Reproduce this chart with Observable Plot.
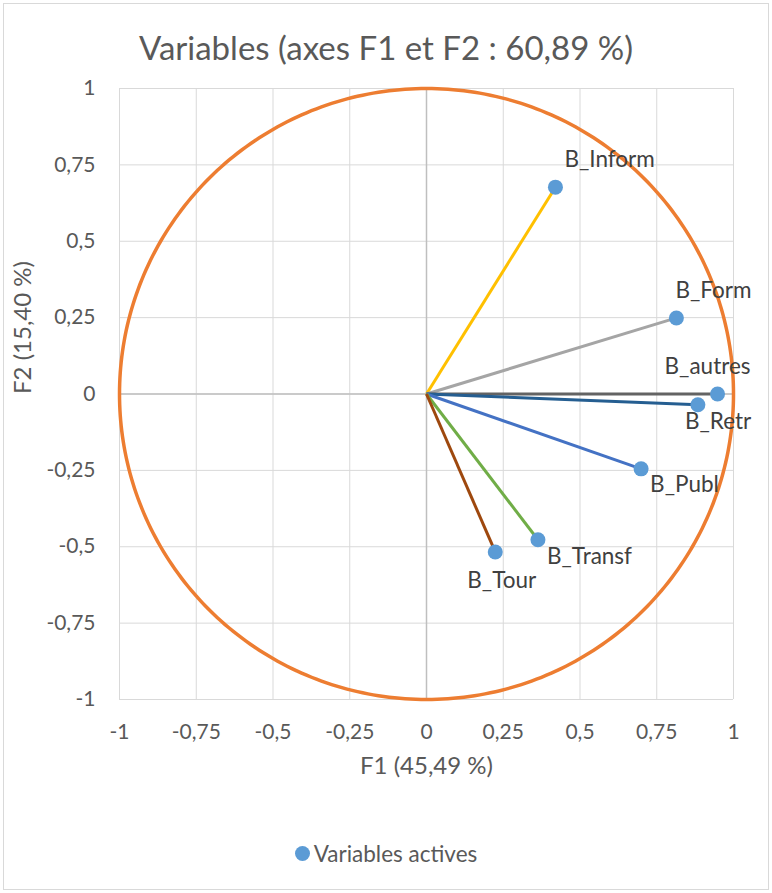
<!DOCTYPE html>
<html><head><meta charset="utf-8">
<script src="https://cdn.jsdelivr.net/npm/d3@7"></script>
<script src="https://cdn.jsdelivr.net/npm/@observablehq/plot@0.6"></script>
<style>
body{margin:0;background:#fff;}
#chart{position:relative;width:772px;height:893px;font-family:Lato,"Open Sans",sans-serif;overflow:hidden;background:#fff}
#frame{position:absolute;left:3px;top:3px;width:764px;height:885px;border:1px solid #d9d9d9;z-index:5;pointer-events:none}
#title{position:absolute;left:0;top:28px;width:772px;text-align:center;font-size:33px;line-height:38px;color:#595959}
#plot{position:absolute;left:0;top:70px}
#legend{position:absolute;left:0;top:838px;width:772px;height:30px;display:flex;justify-content:center;align-items:center;font-size:22.5px;color:#595959}
#legend .sw{display:inline-block;width:15px;height:15px;border-radius:50%;background:#5B9BD5;margin-right:4px}
</style>
</head><body>
<div id="chart">
  <div id="frame"></div>
  <div id="title">Variables (axes F1 et F2 : 60,89 %)</div>
  <div id="plot"></div>
  <div id="legend"><span class="sw"></span><span>Variables actives</span></div>
</div>
<script>
// ---- data ----
const names = ["B_Inform", "B_Form", "B_autres", "B_Retr", "B_Publ", "B_Transf", "B_Tour"];
const f1 = [0.420, 0.814, 0.948, 0.884, 0.699, 0.363, 0.224];
const f2 = [0.677, 0.249, 0.000, -0.035, -0.245, -0.477, -0.517];
const lineColors = ["#FFC000", "#A5A5A5", "#636363", "#255E91", "#4472C4", "#70AD47", "#9E480E"];
const ticks = [-1, -0.75, -0.5, -0.25, 0, 0.25, 0.5, 0.75, 1];
const xLabel = "F1 (45,49 %)";
const yLabel = "F2 (15,40 %)";

// ---- styling / layout ----
const labelOffsets = {
  "B_Inform": [9, -27], "B_Form": [-1, -27], "B_autres": [-53, -27], "B_Retr": [-13, 17],
  "B_Publ": [9, 16], "B_Transf": [9, 17], "B_Tour": [-28, 29]
};
const fmt = d => String(d).replace(".", ",");
const idx = names.map((_, i) => i);
// unit correlation circle (geometry)
const circle = d3.range(0, 361).map(a => ({x: Math.cos(a * Math.PI / 180), y: Math.sin(a * Math.PI / 180)}));

const labelMarks = idx.map(i => Plot.text([i], {
  x: j => f1[j], y: j => f2[j], text: j => names[j],
  dx: labelOffsets[names[i]][0], dy: labelOffsets[names[i]][1],
  textAnchor: "start", fill: "#404040", fontSize: 22.5
}));

const chart = Plot.plot({
  width: 772, height: 730,
  marginLeft: 119, marginRight: 39, marginTop: 18, marginBottom: 101,
  x: {domain: [-1, 1]},
  y: {domain: [-1, 1]},
  color: {type: "identity"},
  style: {fontFamily: "Lato, 'Open Sans', sans-serif", fontSize: "21px", color: "#595959", background: "transparent", overflow: "visible"},
  marks: [
    Plot.gridX(ticks, {stroke: "#d9d9d9", strokeOpacity: 1, strokeWidth: 1}),
    Plot.gridY(ticks, {stroke: "#d9d9d9", strokeOpacity: 1, strokeWidth: 1}),
    Plot.ruleX([0], {stroke: "#bfbfbf", strokeWidth: 1.5}),
    Plot.ruleY([0], {stroke: "#bfbfbf", strokeWidth: 1.5}),
    Plot.axisX(ticks, {tickSize: 0, tickPadding: 25, tickFormat: fmt, label: null, fill: "#595959", fontSize: 21}),
    Plot.axisY(ticks, {tickSize: 0, tickPadding: 24, tickFormat: fmt, label: null, fill: "#595959", fontSize: 21}),
    Plot.line(circle, {x: "x", y: "y", stroke: "#ED7D31", strokeWidth: 3.5}),
    Plot.link(idx, {x1: 0, y1: 0, x2: i => f1[i], y2: i => f2[i], stroke: i => lineColors[i], strokeWidth: 3}),
    Plot.dot(idx, {x: i => f1[i], y: i => f2[i], fill: "#5B9BD5", r: 7.5}),
    ...labelMarks,
    Plot.text([xLabel], {frameAnchor: "bottom", dy: 74, fill: "#595959", fontSize: 24}),
    Plot.text([yLabel], {frameAnchor: "left", dx: -96, rotate: -90, fill: "#595959", fontSize: 24})
  ]
});
document.getElementById("plot").appendChild(chart);
</script>
</body></html>
